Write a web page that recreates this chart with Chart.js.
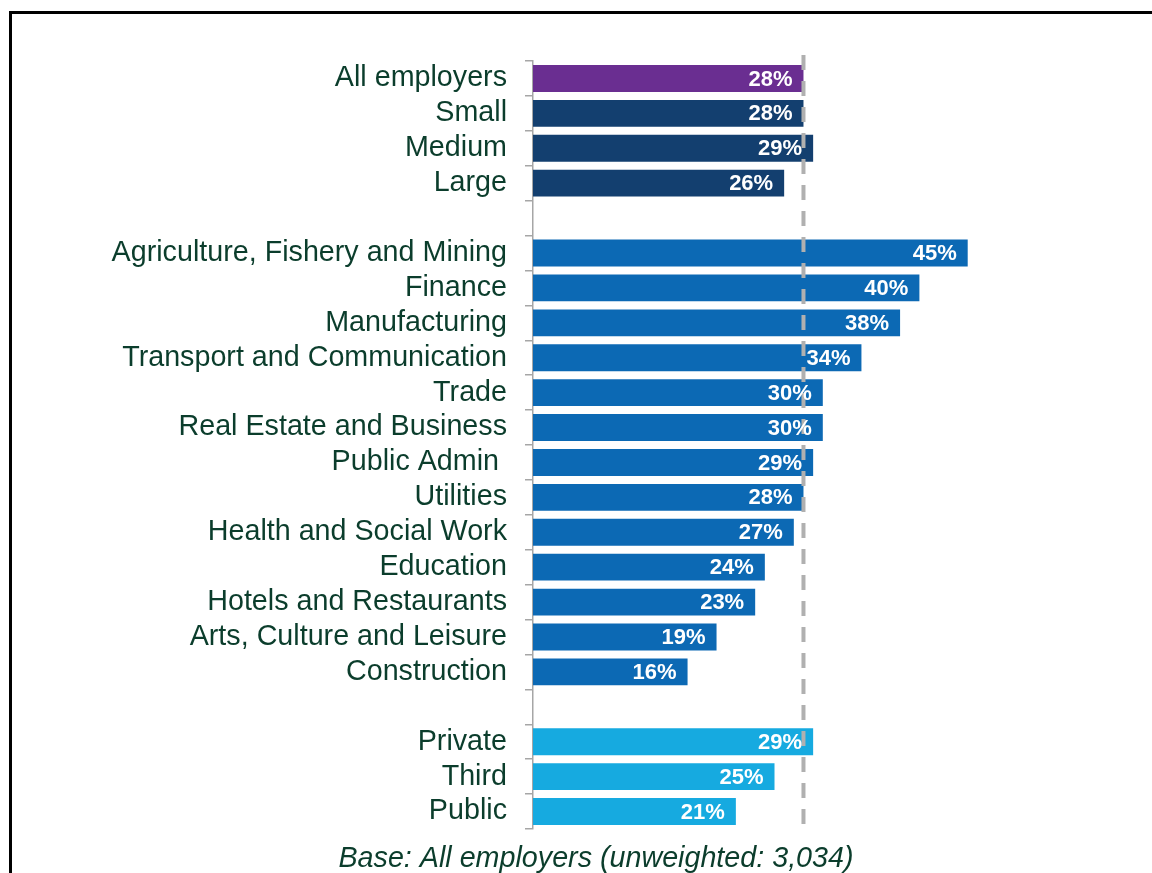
<!DOCTYPE html>
<html>
<head>
<meta charset="utf-8">
<script src="https://cdn.jsdelivr.net/npm/chart.js@4"></script>
<style>
  body { margin: 0; background: #fff; overflow: hidden; }
  #frame {
    position: absolute; left: 9px; top: 11px; width: 1200px; height: 900px;
    border-left: 3px solid #000; border-top: 3px solid #000;
  }
  #wrap { position: absolute; left: 0; top: 0; width: 1152px; height: 873px; }
</style>
</head>
<body>
<div id="frame"></div>
<div id="wrap"><canvas id="chart"></canvas></div>
<script>
const categories = [
  'All employers', 'Small', 'Medium', 'Large', '',
  'Agriculture, Fishery and Mining', 'Finance', 'Manufacturing',
  'Transport and Communication', 'Trade', 'Real Estate and Business',
  'Public Admin ', 'Utilities', 'Health and Social Work', 'Education',
  'Hotels and Restaurants', 'Arts, Culture and Leisure', 'Construction', '',
  'Private', 'Third', 'Public'
];
const values = [
  28, 28, 29, 26, null,
  45, 40, 38, 34, 30, 30, 29, 28, 27, 24, 23, 19, 16, null,
  29, 25, 21
];
const groups = [
  'all', 'size', 'size', 'size', '',
  'sector', 'sector', 'sector', 'sector', 'sector', 'sector', 'sector',
  'sector', 'sector', 'sector', 'sector', 'sector', 'sector', '',
  'type', 'type', 'type'
];
const average = 28;
const baseNote = 'Base: All employers (unweighted: 3,034)';

const groupColors = {
  all: '#6a2e91',
  size: '#133f6f',
  sector: '#0c69b4',
  type: '#16aae0',
  '': '#ffffff'
};

const fontFamily = '"Liberation Sans", Arial, sans-serif';

// dashed average line, then the value labels on top of it, then the base note
const overlay = {
  id: 'overlay',
  afterDatasetsDraw(chart) {
    const ctx = chart.ctx;
    const x = chart.scales.x.getPixelForValue(average);
    ctx.save();
    ctx.strokeStyle = '#b0b0b0';
    ctx.lineWidth = 4;
    ctx.setLineDash([15, 11]);
    ctx.beginPath();
    ctx.moveTo(x, 55);
    ctx.lineTo(x, chart.chartArea.bottom);
    ctx.stroke();
    ctx.setLineDash([]);

    const meta = chart.getDatasetMeta(0);
    ctx.fillStyle = '#ffffff';
    ctx.font = 'bold 22px ' + fontFamily;
    ctx.textAlign = 'right';
    ctx.textBaseline = 'middle';
    meta.data.forEach((bar, i) => {
      if (values[i] === null) return;
      ctx.fillText(values[i] + '%', bar.x - 11, bar.y + 1);
    });

    ctx.fillStyle = '#0b3d2c';
    ctx.font = 'italic 28.7px ' + fontFamily;
    ctx.textAlign = 'center';
    ctx.fillText(baseNote, 596, 859);
    ctx.restore();
  }
};

new Chart(document.getElementById('chart'), {
  type: 'bar',
  data: {
    labels: categories,
    datasets: [{
      data: values,
      backgroundColor: groups.map((g) => groupColors[g]),
      barPercentage: 0.77,
      categoryPercentage: 1
    }]
  },
  options: {
    indexAxis: 'y',
    responsive: true,
    maintainAspectRatio: false,
    animation: false,
    layout: { padding: { top: 61, bottom: 44, right: 136, left: 0 } },
    plugins: {
      legend: { display: false },
      tooltip: { enabled: false }
    },
    scales: {
      x: {
        display: false,
        min: 0,
        max: 50
      },
      y: {
        afterFit: (scale) => { scale.width = 533; },
        border: { color: '#a6a6a6', width: 1.5 },
        grid: {
          drawOnChartArea: false,
          drawTicks: true,
          tickLength: 8,
          offset: true,
          color: '#a6a6a6',
          lineWidth: 1.5
        },
        ticks: {
          autoSkip: false,
          padding: 18,
          color: '#0b3d2c',
          font: { family: fontFamily, size: 28.7 }
        }
      }
    }
  },
  plugins: [overlay]
});
</script>
</body>
</html>
